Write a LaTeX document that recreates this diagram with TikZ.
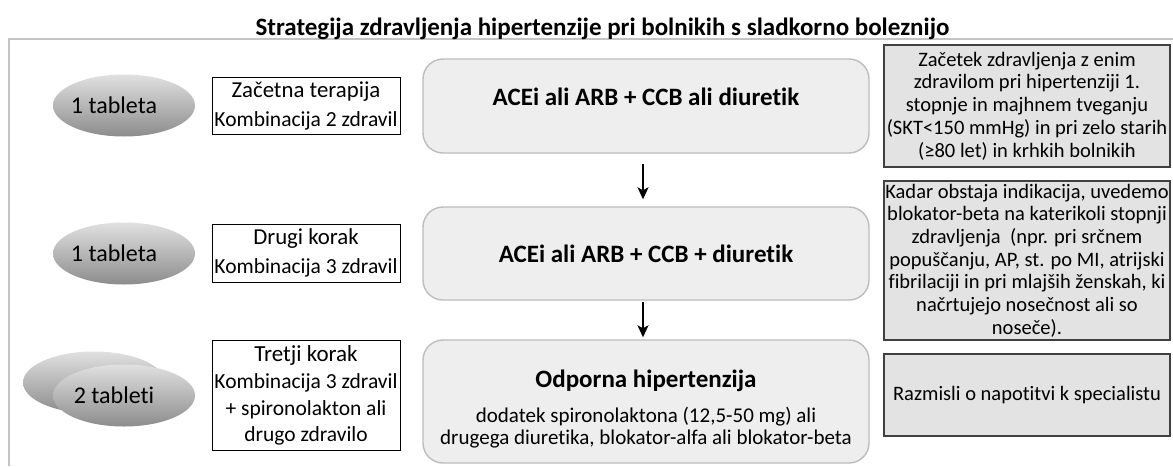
\documentclass[tikz,border=0pt]{standalone}
\usepackage{fontspec}
\setmainfont{Carlito}[Ligatures=NoCommon]
\usetikzlibrary{arrows.meta,shapes.geometric}
\newcommand{\fsz}[2]{\fontsize{#1}{#2}\selectfont}
\definecolor{mfill}{HTML}{EEEEEE}
\definecolor{mline}{HTML}{BDBDBD}
\definecolor{nfill}{HTML}{E3E3E3}
\definecolor{nline}{HTML}{404040}
\definecolor{frame}{HTML}{C4C4C4}
\begin{document}
\begin{tikzpicture}[x=1pt,y=-1pt,
  pill/.style={ellipse, draw=none, top color=black!12, bottom color=black!45, minimum width=142pt, minimum height=62pt, inner sep=0pt, font=\fsz{24}{28}},
  stepbox/.style={draw=black, line width=1pt, fill=white, minimum width=188pt, inner sep=0pt, align=center},
  drugbox/.style={draw=mline, line width=1.4pt, fill=mfill, rounded corners=20pt, minimum width=446pt, inner sep=0pt, align=center},
  notebox/.style={draw=nline, line width=1.2pt, fill=nfill, minimum width=286pt, inner sep=0pt, align=center, font=\fsz{20.5}{22.7}},
  flow/.style={-{Stealth[length=12pt,width=11pt,inset=3pt]}, line width=1.7pt}
]
\useasboundingbox[fill=white] (0,0) rectangle (1173,466);
\draw[frame, line width=1.2pt] (9,466) -- (9,39) -- (1173,39);
\node[anchor=base, font=\bfseries\fsz{25}{30}] (title) at (602.5,35) {Strategija zdravljenja hipertenzije pri bolnikih s sladkorno boleznijo};

% tablets
\node[pill] (t1) at (124,105.5) {\hspace*{-20pt}1 tableta};
\node[pill] (t2) at (124,253.5) {\hspace*{-20pt}1 tableta};
\node[pill] (t3b) at (94,382.5) {};
\node[pill] (t3) at (124,395.5) {\hspace*{-20pt}2 tableti};

% step boxes
\node[stepbox, minimum height=57pt, font=\fsz{21.5}{29}] (s1) at (306,105.5) {{\fsz{22.8}{29}Začetna terapija}\\Kombinacija 2 zdravil};
\node[stepbox, minimum height=58pt, font=\fsz{21.5}{29}] (s2) at (306,253) {{\fsz{22.8}{29}Drugi korak}\\Kombinacija 3 zdravil};
\node[stepbox, minimum height=110pt, font=\fsz{21.5}{26}] (s3) at (306,395) {{\fsz{23}{26}Tretji korak}\\[1pt]Kombinacija 3 zdravil\\[1pt]+ spironolakton ali\\drugo zdravilo};

% drug boxes
\node[drugbox, minimum height=94pt, font=\bfseries\fsz{25}{30}, text depth=18pt] (m1) at (646,106) {ACEi ali ARB + CCB ali diuretik};
\node[drugbox, minimum height=93pt, font=\bfseries\fsz{25}{30}] (m2) at (646,253.5) {ACEi ali ARB + CCB + diuretik};
\node[drugbox, minimum height=123pt, font=\fsz{21}{22.5}] (m3) at (646,401.5) {{\bfseries\fsz{25}{30}\rule{0pt}{33pt}Odporna hipertenzija}\\[12pt]dodatek spironolaktona (12,5-50 mg) ali\\drugega diuretika, blokator-alfa ali blokator-beta};

% notes
\node[notebox, minimum height=122pt] (n1) at (1027,106) {Začetek zdravljenja z enim\\zdravilom pri hipertenziji 1.\\stopnje in majhnem tveganju\\(SKT<150 mmHg) in pri zelo starih\\(≥80 let) in krhkih bolnikih};
\node[notebox, minimum height=159pt] (n2) at (1027,260.5) {Kadar obstaja indikacija, uvedemo\\blokator-beta na katerikoli stopnji\\zdravljenja~ (npr. pri srčnem\\popuščanju, AP, st. po MI, atrijski\\fibrilaciji in pri mlajših ženskah, ki\\načrtujejo nosečnost ali so\\noseče).};
\node[notebox, minimum height=82pt] (n3) at (1027,395) {Razmisli o napotitvi k specialistu};

% arrows
\draw[flow, shorten <=10pt, shorten >=7pt] ([xshift=-3pt]m1.south) -- ([xshift=-3pt]m2.north);
\draw[flow, shorten <=1pt, shorten >=2pt] ([xshift=-3pt]m2.south) -- ([xshift=-3pt]m3.north);
\end{tikzpicture}
\end{document}
